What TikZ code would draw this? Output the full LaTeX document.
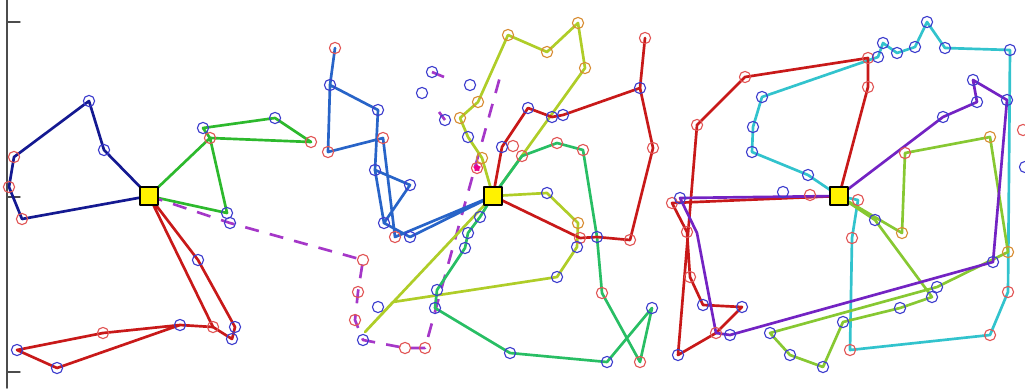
\documentclass[tikz,border=0pt]{standalone}
\usepackage{tikz}
\usetikzlibrary{shapes.geometric}
% route colours
\definecolor{navyR}{RGB}{20,25,145}
\definecolor{grnR}{RGB}{45,185,45}
\definecolor{redR}{RGB}{200,25,25}
\definecolor{purpD}{RGB}{165,55,200}
\definecolor{steelR}{RGB}{40,100,200}
\definecolor{yelR}{RGB}{175,205,40}
\definecolor{tealR}{RGB}{40,190,100}
\definecolor{cyanR}{RGB}{50,195,205}
\definecolor{violR}{RGB}{115,35,195}
\definecolor{limeR}{RGB}{135,200,50}
% marker colours
\definecolor{mkRed}{RGB}{225,85,85}
\definecolor{mkBlue}{RGB}{60,60,205}
\definecolor{mkOrange}{RGB}{215,140,50}

\begin{document}
\begin{tikzpicture}[x=0.025cm, y=-0.025cm, line join=round, line cap=round,
  route/.style={line width=1.9pt},
  mk/.style={line width=0.8pt},
  depot/.style={draw=black, fill=yellow, line width=0.8pt, minimum size=0.45cm, inner sep=0pt}]
  % pixel frame 1025 x 388, y pointing down
  \useasboundingbox (0,0) rectangle (1025,388);
  % axis on the left
  \draw[gray!60!black, line width=1.2pt] (7,0) -- (7,388);
  \foreach \t in {22,197,372}{
     \draw[gray!60!black, line width=1pt] (7,\t) -- (20,\t);}
  % customer positions (px)
  \foreach \n/\x/\y in {n1/104/150, n2/89/101, n3/14/157, n4/9/187, n5/22/219,
      g1/210/138, g2/203/128, g3/275/118, g4/311/142, g5/227/213,
      r1/198/260, r2/235/327, r3/232/339, r8/213/327, r4/180/325, r7/103/333, r6/17/350, r5/57/368,
      p1/230/223, p2/363/260, p3/358/292, p4/355/320, p5/363/340, p6/405/348, p7/425/348, p8/500/77,
      q1/432/72, q2/422/93, q3/470/85, q4/445/120, q5/468/137, q6/477/168, q1e/444/77, q4e/439/112,
      s1/395/237, s2/383/138, s3/328/152, s4/330/85, s5/335/48, s6/378/110, s7/375/170, s8/410/185, s9/384/223, s10/410/237,
      y1/482/158, y2/460/118, y3/478/102, y4/508/35, y5/547/52, y6/578/23, y7/585/68,
      w1/547/193, w2/578/223, w3/577/247, w4/557/277, w5/393/302, w6/365/332, wx/378/307,
      e1/502/147, e2/528/108, e3/552/117, e4/563/115, e5/640/88, e6/645/38, e7/653/148, e8/630/240, e9/597/237, e10/580/238,
      t1/513/146, tx/522/156, t2/557/143, t3/583/150, t5/602/293, t6/640/362, t7/652/308, t8/607/362,
      t9/510/353, t10/435/308, t11/437/290, t12/465/248, t13/468/233, t14/480/217,
      c1/808/175, c2/752/152, c3/753/127, c4/762/97, c5/878/57, c6/883/43, c7/897/53, c8/915/47,
      c9/927/22, c10/945/48, c11/1010/50, c12/1008/292, c13/990/335, c14/850/350, c15/852/238, c16/858/200,
      k1/868/87, k2/868/58, k3/745/77, k4/697/125, k5/678/355, k6/716/333, k7/742/307, k8/703/305,
      k9/690/277, k10/687/232, k11/672/203,
      v1/943/117, v2/977/102, v3/973/80, v4/1007/100, v5/993/262, v6/730/335, v8/697/233, v9/680/198,
      h1/875/220, h2/937/287, h3/770/333, h4/790/355, h5/823/367, h6/843/322, h7/900/308, h8/932/297,
      h9/902/233, h10/905/153, h11/990/137, h12/1008/252,
      x1/783/192, x2/810/195, x3/1023/130, x4/1025/167}
     \coordinate (\n) at (\x,\y);
  % depots
  \coordinate (D1) at (149,196);
  \coordinate (D2) at (493,196);
  \coordinate (D3) at (839,196);
  % routes of depot 1
  \draw[route, navyR] (D1) -- (n1) -- (n2) -- (n3) -- (n4) -- (n5) -- cycle;
  \draw[route, grnR] (D1) -- (g1) -- (g2) -- (g3) -- (g4) -- (g1) -- (g5) -- cycle;
  \draw[route, redR] (D1) -- (r1) -- (r2) -- (r3) -- (r8) -- cycle;
  \draw[route, redR] (r8) -- (r4) -- (r7) -- (r6) -- (r5) -- (r4);
  \draw[route, purpD, dash pattern=on 10pt off 8pt, line cap=butt]
     (D1) -- (p1) -- (p2) -- (p3) -- (p4) -- (p5) -- (p6) -- (p7) -- (p8);
  \draw[route, purpD, line cap=butt] (q1) -- (q1e) (q4) -- (q4e);
  % routes of depot 2
  \draw[route, steelR] (D2) -- (s10) -- (s9) -- (s8) -- (s7) -- (s6) -- (s4) -- (s3) -- (s2) -- (s1) -- cycle;
  \draw[route, steelR] (s4) -- (s5) (s7) -- (s9);
  \draw[route, yelR] (D2) -- (y1) -- (q5) -- (y2) -- (y3) -- (y4) -- (y5) -- (y6) -- (y7) -- cycle;
  \draw[route, yelR] (D2) -- (w1) -- (w2) -- (w3) -- (w4) -- (w5) -- (w6) -- cycle;
  \draw[route, tealR] (D2) -- (tx) -- (t2) -- (t3) -- (e9) -- (t5) -- (t6) -- (t7) -- (t8) -- (t9)
     -- (t10) -- (t11) -- (t12) -- (t13) -- (t14) -- cycle;
  \draw[route, redR] (D2) -- (e1) -- (e2) -- (e3) -- (e4) -- (e5) -- (e6);
  \draw[route, redR] (e5) -- (e7) -- (e8) -- (e9) -- (e10) -- (D2);
  % routes of depot 3
  \draw[route, cyanR] (D3) -- (c1) -- (c2) -- (c3) -- (c4) -- (c5) -- (c6) -- (c7) -- (c8) -- (c9)
     -- (c10) -- (c11) -- (c12) -- (c13) -- (c14) -- (c15) -- (c16) -- cycle;
  \draw[route, limeR] (D3) -- (h9) -- (h10) -- (h11) -- (h12) -- (h2) -- (h3) -- (h4) -- (h5)
     -- (h6) -- (h7) -- (h8) -- (h1) -- cycle;
  \draw[route, redR] (D3) -- (k1) -- (k2) -- (k3) -- (k4) -- (k5) -- (k6) -- (k7) -- (k8) -- (k9)
     -- (k10) -- (k11) -- cycle;
  \draw[route, violR] (D3) -- (v1) -- (v2) -- (v3) -- (v4) -- (v5) -- (v6) -- (k6) -- (v8) -- (v9) -- cycle;
  % customer markers
  \foreach \n in {n3,n4,n5,g1,g4,r8,r7,p2,p3,p4,p6,p7,s1,s2,s3,s5,e6,e7,e8,e10,t1,tx,t2,t3,t5,t6,
      c12,c13,c14,c15,c16,k1,k2,k3,k4,k6,k9,k10,k11,h10,x2,x3,q6}
     \draw[mk, mkRed] (\n) circle (0.14cm);
  \foreach \n in {y1,y2,y3,y4,y5,y6,y7,w2,h9,h11,h12}
     \draw[mk, mkOrange] (\n) circle (0.14cm);
  \foreach \n in {n1,n2,g2,g3,g5,p1,r1,r2,r3,r4,r5,r6,p5,s4,s6,s7,s8,s9,s10,q1,q2,q3,q4,q5,
      e1,e2,e3,e4,e5,e9,t7,t8,t9,t10,t11,t12,t13,t14,w1,w3,w4,wx,
      c1,c2,c3,c4,c5,c6,c7,c8,c9,c10,c11,k5,k7,k8,v1,v2,v3,v4,v5,v6,v9,h1,h2,h3,h4,h5,h6,h7,h8,x1,x4}
     \draw[mk, mkBlue] (\n) circle (0.14cm);
  \node[star, star points=5, fill=magenta, inner sep=0pt, minimum size=0.2cm] (q6s) at (q6) {};
  % depot squares
  \node[depot] (dep1) at (D1) {};
  \node[depot] (dep2) at (D2) {};
  \node[depot] (dep3) at (D3) {};
\end{tikzpicture}
\end{document}
